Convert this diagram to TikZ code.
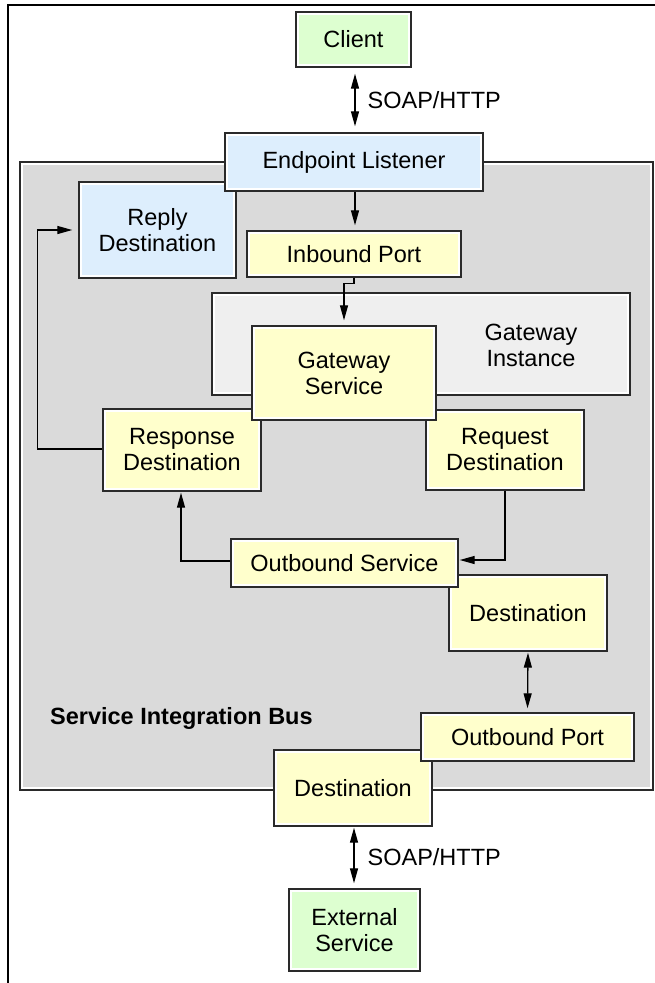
\documentclass[tikz,border=0pt]{standalone}
\usepackage{fontspec}
\setmainfont{Liberation Sans}
\usetikzlibrary{arrows.meta,calc}
\definecolor{boxline}{HTML}{2A2A2A}
\definecolor{greenfill}{HTML}{DDFFD0}
\definecolor{bluefill}{HTML}{DDEEFD}
\definecolor{yellowfill}{HTML}{FFFFCC}
\definecolor{busfill}{HTML}{DADADA}
\definecolor{instfill}{HTML}{EFEFEF}
\tikzset{
  box/.style={rectangle, draw=boxline, line width=1.4pt, inner sep=0pt, align=center,
    font=\fontsize{23.5}{26}\selectfont,
    path picture={\draw[white,line width=6pt] (path picture bounding box.south west) rectangle (path picture bounding box.north east);}},
  ybox/.style={box, fill=yellowfill},
  bbox/.style={box, fill=bluefill},
  gbox/.style={box, fill=greenfill},
  conn/.style={line width=1.3pt, draw=black, -{Triangle[length=15pt,width=8pt]}},
  dconn/.style={line width=1.3pt, draw=black, {Triangle[length=15pt,width=8pt]}-{Triangle[length=15pt,width=8pt]}},
  lbl/.style={font=\fontsize{23.5}{26}\selectfont, inner sep=0pt}
}
\begin{document}
\begin{tikzpicture}[x=1pt,y=-1pt]
\useasboundingbox (0,0) rectangle (655,983);
% page frame
\draw[line width=2pt] (8,983) -- (8,5) -- (655,5);
% bus
\node[box, fill=busfill, minimum width=633pt, minimum height=628pt] (bus) at (336.5,476) {};
\node[lbl, anchor=west, font=\fontsize{23.5}{26}\selectfont\bfseries] (buslabel) at (50,718) {Service Integration Bus};
% gateway instance
\node[box, fill=instfill, minimum width=418pt, minimum height=102pt] (gi) at (421,344) {};
\node[lbl, align=center] (gilabel) at (531,345) {Gateway\\Instance};
% boxes
\node[bbox, minimum width=157pt, minimum height=96pt] (reply) at (157.5,230) {Reply\\Destination};
\node[bbox, minimum width=258pt, minimum height=58pt] (listener) at (354,162) {Endpoint Listener};
\node[ybox, minimum width=214pt, minimum height=46pt] (inbound) at (354,254) {Inbound Port};
\node[ybox, minimum width=158pt, minimum height=82pt] (resp) at (182,450) {Response\\Destination};
\node[ybox, minimum width=158pt, minimum height=80pt] (req) at (505,450) {Request\\Destination};
\node[ybox, minimum width=184pt, minimum height=94pt] (gs) at (344,373) {Gateway\\Service};
\node[ybox, minimum width=158pt, minimum height=76pt] (dest1) at (528,613) {Destination};
\node[ybox, minimum width=227pt, minimum height=48pt] (outsvc) at (344.5,563) {Outbound Service};
\node[ybox, minimum width=158pt, minimum height=76pt] (dest2) at (353,788) {Destination};
\node[ybox, minimum width=213pt, minimum height=48pt] (outport) at (527.5,737) {Outbound Port};
\node[gbox, minimum width=115pt, minimum height=55pt] (client) at (353.5,39.5) {Client};
\node[gbox, minimum width=131pt, minimum height=82pt] (ext) at (354.5,930) {External\\Service};
% connectors
\draw[dconn, shorten <=6pt, shorten >=6pt] ([xshift=1.5pt]client.south) -- ([xshift=1pt]listener.north)
  node[lbl, midway, anchor=west, xshift=12pt] (soap1) {SOAP/HTTP};
\draw[conn, shorten >=5pt] ([xshift=1pt]listener.south) -- ([xshift=1pt]inbound.north);
\draw[conn, shorten >=5pt] (inbound.south) -- ++(0,6) -| (gs.north);
\draw[conn, shorten >=6pt] ([yshift=1pt]resp.west) -- ++(-65,0) |- (reply.west);
\draw[conn, shorten >=1pt] (req.south) |- ([yshift=3pt]outsvc.east);
\draw[conn, shorten >=1pt] ([yshift=2pt]outsvc.west) -| ([xshift=-1pt]resp.south);
\draw[dconn, shorten <=1pt, shorten >=4pt] (dest1.south) -- (outport.north);
\draw[dconn, shorten <=1pt, shorten >=5pt] ([xshift=1pt]dest2.south) -- ([xshift=-0.5pt]ext.north)
  node[lbl, midway, anchor=west, xshift=13pt] (soap2) {SOAP/HTTP};
\end{tikzpicture}
\end{document}
